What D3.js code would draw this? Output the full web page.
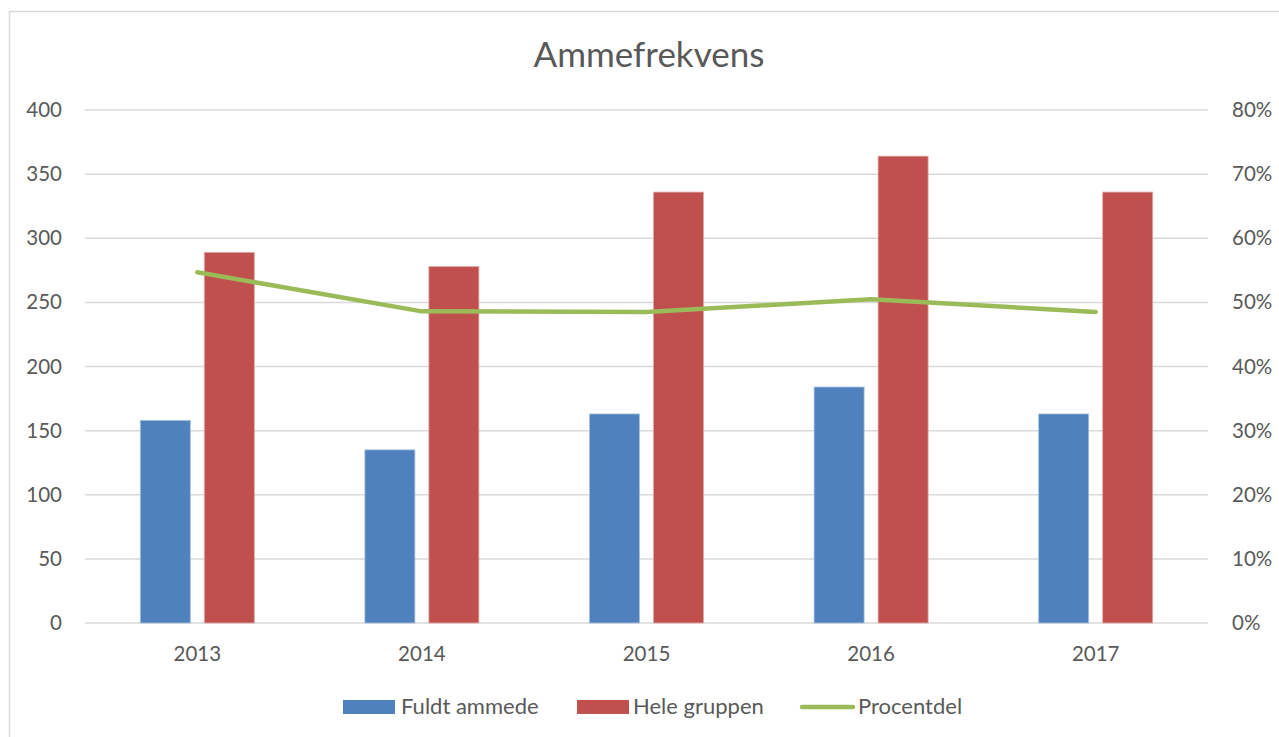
<!DOCTYPE html>
<html><head><meta charset="utf-8">
<script src="https://cdn.jsdelivr.net/npm/d3@7"></script>
<style>body{margin:0;background:#fff;} text{font-family:Lato,"Open Sans",sans-serif;fill:#595959;}</style>
</head><body>
<svg id="c" width="1279" height="737"></svg>
<script>
const categories = ["2013","2014","2015","2016","2017"];
const fuldtAmmede = [158,135,163,184,163];
const heleGruppen = [289,278,336,364,336];
const procentdel = [0.547,0.486,0.485,0.505,0.485];
const leftTicks = [0,50,100,150,200,250,300,350,400];
const rightTicks = [0,0.1,0.2,0.3,0.4,0.5,0.6,0.7,0.8];
const seriesNames = ["Fuldt ammede","Hele gruppen","Procentdel"];
const colors = ["#4F81BD","#C0504D","#9BBB59"];

const svg = d3.select("#c");
// outer chart border
svg.append("rect").attr("x",9.5).attr("y",11.5).attr("width",1300).attr("height",800)
  .attr("fill","none").attr("stroke","#D9D9D9").attr("stroke-width",1.5);

const L=85,R=1208,T=110,B=623;
const x = d3.scaleBand().domain(categories).range([L,R]);
const y = d3.scaleLinear().domain([0,400]).range([B,T]);
const y2 = d3.scaleLinear().domain([0,0.8]).range([B,T]);

// gridlines
svg.append("g").selectAll("line").data(leftTicks).join("line")
  .attr("x1",L).attr("x2",R).attr("y1",d=>y(d)).attr("y2",d=>y(d))
  .attr("stroke","#D9D9D9").attr("stroke-width",1.5);

// left axis
const ga = svg.append("g").attr("transform",`translate(${L},0)`)
  .call(d3.axisLeft(y).tickValues(leftTicks).tickSize(0).tickPadding(23));
ga.select(".domain").remove();
ga.selectAll("text").attr("font-size",20.5).attr("fill","#595959").attr("font-family","Lato");

const gr = svg.append("g").attr("transform",`translate(${R},0)`)
  .call(d3.axisRight(y2).tickValues(rightTicks).tickFormat(d3.format(".0%")).tickSize(0).tickPadding(24));
gr.select(".domain").remove();
gr.selectAll("text").attr("font-size",20.5).attr("fill","#595959").attr("font-family","Lato");

const gx = svg.append("g").attr("transform",`translate(0,${B})`)
  .call(d3.axisBottom(x).tickSize(0).tickPadding(0));
gx.select(".domain").remove();
gx.selectAll("text").attr("font-size",20.5).attr("fill","#595959").attr("font-family","Lato")
  .attr("dy",null).attr("y",38);

// bars
const bw = 50, gap = 14;
const cx = d=>x(d)+x.bandwidth()/2;
svg.append("g").selectAll("rect").data(categories).join("rect")
  .attr("x",d=>cx(d)-gap/2-bw).attr("width",bw)
  .attr("y",(d,i)=>y(fuldtAmmede[i])).attr("height",(d,i)=>B-y(fuldtAmmede[i]))
  .attr("fill",colors[0]).attr("stroke","#A7C0DE").attr("stroke-width",0.8);
svg.append("g").selectAll("rect").data(categories).join("rect")
  .attr("x",d=>cx(d)+gap/2).attr("width",bw)
  .attr("y",(d,i)=>y(heleGruppen[i])).attr("height",(d,i)=>B-y(heleGruppen[i]))
  .attr("fill",colors[1]).attr("stroke","#E0A8A6").attr("stroke-width",0.8);

// line
const line = d3.line().x((d,i)=>cx(categories[i])).y(d=>y2(d));
svg.append("path").datum(procentdel).attr("d",line).attr("fill","none")
  .attr("stroke",colors[2]).attr("stroke-width",4.5).attr("stroke-linecap","round").attr("stroke-linejoin","round");

// title
svg.append("text").attr("x",649).attr("y",67).attr("text-anchor","middle")
  .attr("font-size",35).attr("fill","#595959").text("Ammefrekvens");

// legend
const lg = svg.append("g");
lg.append("rect").attr("x",343).attr("y",700).attr("width",52).attr("height",14).attr("fill",colors[0]);
lg.append("text").attr("x",401).attr("y",713.5).attr("font-size",22).text(seriesNames[0]);
lg.append("rect").attr("x",577).attr("y",700).attr("width",52).attr("height",14).attr("fill",colors[1]);
lg.append("text").attr("x",633).attr("y",713.5).attr("font-size",22).text(seriesNames[1]);
lg.append("line").attr("x1",802).attr("x2",853).attr("y1",707).attr("y2",707)
  .attr("stroke",colors[2]).attr("stroke-width",4.5).attr("stroke-linecap","round");
lg.append("text").attr("x",858).attr("y",713.5).attr("font-size",22).text(seriesNames[2]);
</script>
</body></html>
